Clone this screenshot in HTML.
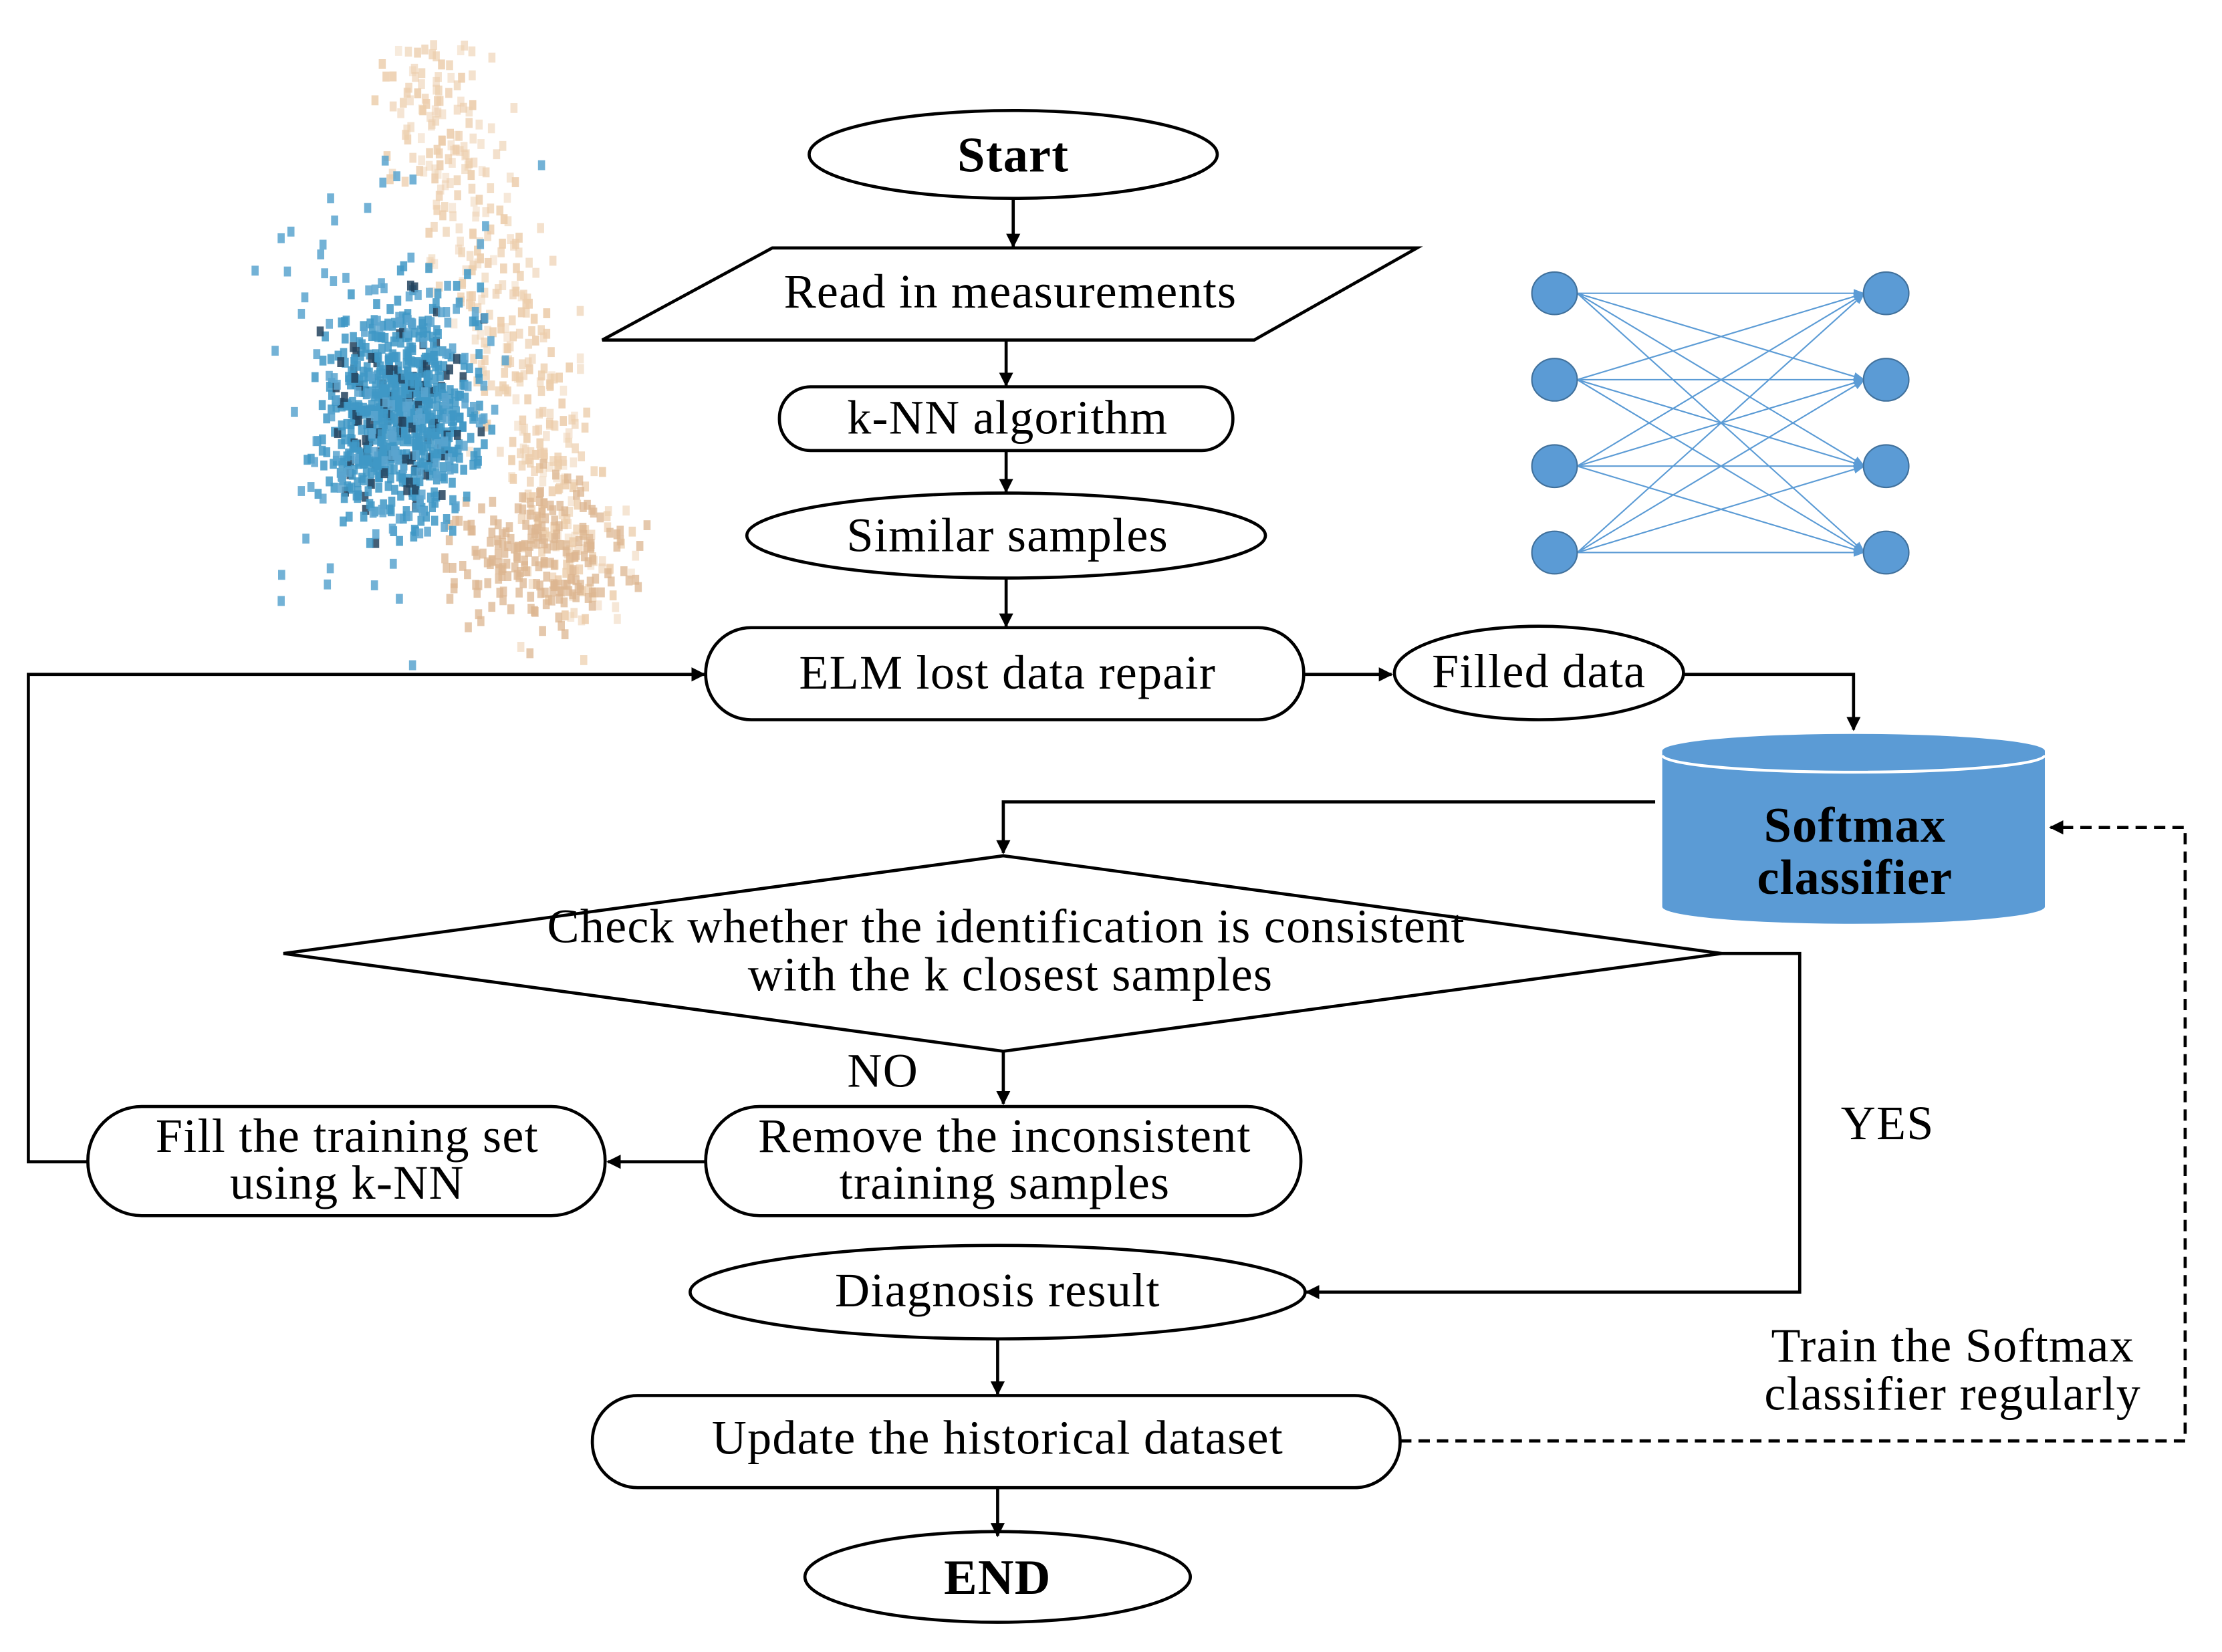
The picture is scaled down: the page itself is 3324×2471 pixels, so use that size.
<!DOCTYPE html>
<html><head><meta charset="utf-8">
<style>
html,body{margin:0;padding:0;background:#fff;}
svg{display:block;}
text{font-family:"Liberation Serif",serif;fill:#000;}
</style></head><body>
<svg id="s" width="3324" height="2471" viewBox="0 0 1568 1166" preserveAspectRatio="none" xmlns="http://www.w3.org/2000/svg">
<defs>
<marker id="a" markerWidth="10" markerHeight="10" refX="9" refY="5" orient="auto" markerUnits="userSpaceOnUse"><path d="M0,0 L10,5 L0,10 z" fill="#000"/></marker>
<marker id="b" markerWidth="8" markerHeight="6" refX="8" refY="3" orient="auto" markerUnits="userSpaceOnUse"><path d="M0,0 L8,3 L0,6 z" fill="#5b9bd5"/></marker>
</defs>
<g id="scatter"></g>
<g fill="none" stroke="#000" stroke-width="2.2">
<ellipse cx="715" cy="109" rx="144" ry="31" fill="#fff"/>
<polygon points="425,240 545,175 1000,175 885,240" fill="#fff"/>
<rect x="550" y="273" width="320" height="45" rx="22" fill="#fff"/>
<ellipse cx="710" cy="378" rx="183" ry="30" fill="#fff"/>
<rect x="498" y="443" width="422" height="65" rx="32" fill="#fff"/>
<ellipse cx="1086" cy="475" rx="102" ry="33" fill="#fff"/>
<polygon points="708,604 1215,673 708,742 200,673" fill="#fff"/>
<rect x="498" y="781" width="420" height="77" rx="38" fill="#fff"/>
<rect x="62" y="781" width="365" height="77" rx="38" fill="#fff"/>
<ellipse cx="704" cy="912" rx="217" ry="33" fill="#fff"/>
<rect x="418" y="985" width="570" height="65" rx="32" fill="#fff"/>
<ellipse cx="704" cy="1113" rx="136" ry="32" fill="#fff"/>
</g>
<path d="M1173,530 L1173,640 A135,12 0 0 0 1443,640 L1443,530 z" fill="#5b9bd5"/>
<ellipse cx="1308" cy="530" rx="135" ry="12" fill="#5b9bd5"/>
<path d="M1173,533 A135,12 0 0 0 1443,533" fill="none" stroke="#fff" stroke-width="2"/>
<g fill="none" stroke="#000" stroke-width="2.2" marker-end="url(#a)">
<line x1="715" y1="140" x2="715" y2="174"/>
<line x1="710" y1="240" x2="710" y2="272"/>
<line x1="710" y1="318" x2="710" y2="347"/>
<line x1="710" y1="408" x2="710" y2="442"/>
<line x1="920" y1="476" x2="982" y2="476"/>
<polyline points="1188,476 1308,476 1308,515"/>
<polyline points="1168,566 708,566 708,602"/>
<polyline points="1215,673 1270,673 1270,912 922,912"/>
<line x1="708" y1="742" x2="708" y2="779"/>
<line x1="498" y1="820" x2="429" y2="820"/>
<polyline points="62,820 20,820 20,476 497,476"/>
<line x1="704" y1="945" x2="704" y2="984"/>
<line x1="704" y1="1050" x2="704" y2="1084"/>
<polyline points="988,1017 1542,1017 1542,584 1447,584" stroke-dasharray="8,5"/>
</g>
<g id="nn"></g>
<g font-size="34" text-anchor="middle" letter-spacing="0.6">
<text x="715" y="121" font-weight="bold" font-size="35">Start</text>
<text x="713" y="217">Read in measurements</text>
<text x="711" y="306">k-NN algorithm</text>
<text x="711" y="389">Similar samples</text>
<text x="711" y="486">ELM lost data repair</text>
<text x="1086" y="485">Filled data</text>
<text x="1309" y="594" font-weight="bold" font-size="35">Softmax</text>
<text x="1309" y="631" font-weight="bold" font-size="35">classifier</text>
<text x="710" y="665">Check whether the identification is consistent</text>
<text x="713" y="699">with the k closest samples</text>
<text x="623" y="767">NO</text>
<text x="1332" y="804">YES</text>
<text x="709" y="813">Remove the inconsistent</text>
<text x="709" y="846">training samples</text>
<text x="245" y="813">Fill the training set</text>
<text x="245" y="846">using k-NN</text>
<text x="704" y="922">Diagnosis result</text>
<text x="704" y="1026">Update the historical dataset</text>
<text x="704" y="1125" font-weight="bold" font-size="35">END</text>
<text x="1378" y="961">Train the Softmax</text>
<text x="1378" y="995">classifier regularly</text>
</g>
</svg>
<script>
(function(){
var NS="http://www.w3.org/2000/svg";
var nn=document.getElementById("nn");
var ys=[207,268,329,390];
ys.forEach(function(y1){ys.forEach(function(y2){
var l=document.createElementNS(NS,"line");
l.setAttribute("x1",1113);l.setAttribute("y1",y1);l.setAttribute("x2",1316);l.setAttribute("y2",y2);
l.setAttribute("stroke","#5b9bd5");l.setAttribute("stroke-width","1");l.setAttribute("marker-end","url(#b)");nn.appendChild(l);});});
ys.forEach(function(y){[1097,1331].forEach(function(x){
var c=document.createElementNS(NS,"ellipse");c.setAttribute("cx",x);c.setAttribute("cy",y);c.setAttribute("rx",16);c.setAttribute("ry",15);
c.setAttribute("fill","#5b9bd5");c.setAttribute("stroke","#41719c");c.setAttribute("stroke-width","1");nn.appendChild(c);});});
var g=document.getElementById("scatter");
var seed=7;function r(){seed=(seed*16807)%2147483647;return (seed-1)/2147483646;}
function n(){return (r()+r()+r()-1.5)/0.5;}
function sq(x,y,col,op){var e=document.createElementNS(NS,"rect");e.setAttribute("x",x);e.setAttribute("y",y);e.setAttribute("width",5);e.setAttribute("height",7);e.setAttribute("fill",col);e.setAttribute("opacity",op);g.appendChild(e);}
var i;
for(i=0;i<450;i++){var t=r();var x=295+t*115+n()*18;var y=30+t*390+n()*20;if(y<25)continue;sq(x,y,"#eccdab",0.4+0.5*r());}
for(i=0;i<200;i++){var x=375+n()*30;var y=390+n()*25;sq(x,y,"#dcb690",0.75);}
for(i=0;i<800;i++){var x=280+n()*25;var y=290+n()*38;sq(x,y,r()<0.15?"#23435e":"#3f98c6",0.85);}
for(i=0;i<140;i++){var x=280+n()*40;var y=280+n()*75;sq(x,y,"#5aa5cf",0.85);}
})();
</script>
</body></html>
